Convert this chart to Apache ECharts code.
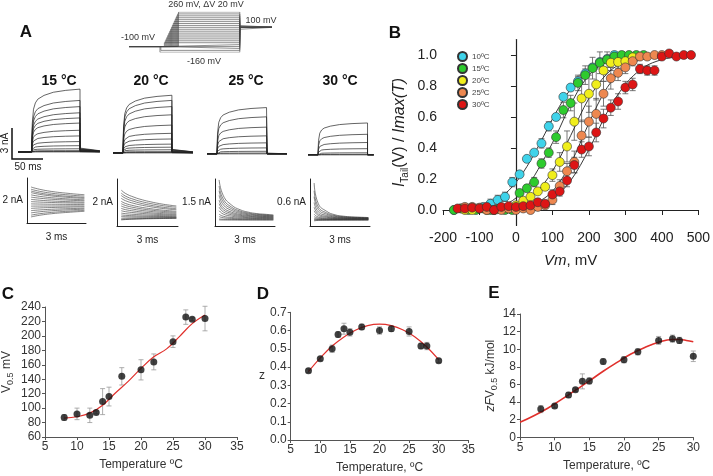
<!DOCTYPE html>
<html><head><meta charset="utf-8">
<script src="https://cdn.jsdelivr.net/npm/echarts@6/dist/echarts.min.js"></script>
<style>html,body{margin:0;padding:0;background:#fff}#c{width:713px;height:476px}</style>
</head><body><div id="c"></div><script>
// ---------- Panel A: protocol ----------
var protoLevels = [260,240,220,200,180,160,140,120,100,80,60,40,20,0,-20,-40,-60,-80,-100,-120,-140,-160];
var protoHold = -100, protoTail = 100;
var protoTimes = [0, 50, 179, 231];           // ms: start, step on, step off, end

// ---------- Panel A: current traces (nA) ----------
var tempLabels = ['15 °C', '20 °C', '25 °C', '30 °C'];
var amps15 = [6.1, 5.0, 4.4, 3.8, 3.3, 2.8, 2.1, 1.55, 1.0, 0.6, 0.3, 0.12, 0.03, 0.0];
var amps20 = [5.6, 5.1, 4.5, 3.7, 2.7, 1.9, 1.35, 0.85, 0.55, 0.3, 0.12, 0.03, 0.0];
var amps25 = [4.5, 3.6, 2.6, 1.75, 1.07, 0.58, 0.25, 0.08, 0.0];
var amps30 = [3.1, 2.0, 1.2, 0.6, 0.2, 0.05, 0.0];
var stepOn = [22, 16, 16, 16], stepOff = [100, 95, 97, 96], traceEnd = [132, 129, 129, 106];
var tailFrac = [0.06, 0.06, 0, 0];
var actT = [0, 1, 3, 6, 10, 20, 35, 55, 80];
var actV = [0, 0.45, 0.68, 0.78, 0.84, 0.9, 0.95, 0.98, 1.0];

// ---------- Panel A: tail currents ----------
var tailLabels = ['2 nA', '2 nA', '1.5 nA', '0.6 nA'];
var tailT = [0.25, 0.5, 1, 1.5, 2, 2.5, 3, 3.5];
var tailShape = [
  [1, 0.85, 0.62, 0.45, 0.32, 0.22, 0.12, 0.05],
  [1, 0.8, 0.58, 0.42, 0.3, 0.2, 0.12, 0.06],
  [1, 0.55, 0.28, 0.15, 0.08, 0.04, 0.02, 0.0],
  [1, 0.4, 0.18, 0.08, 0.04, 0.02, 0.01, 0.0]
];
var tailStart = [
  [1.6, 1.5, 1.42, 1.35, 1.25, 1.15, 1.05, 0.95, 0.85, 0.75, 0.65, 0.55, 0.45, 0.35, 0.27],
  [1.53, 1.4, 1.3, 1.18, 1.05, 0.95, 0.85, 0.75, 0.65, 0.55, 0.47, 0.4, 0.33, 0.28, 0.26],
  [1.96, 1.7, 1.5, 1.3, 1.1, 0.95, 0.8, 0.65, 0.5, 0.4, 0.3, 0.26],
  [1.83, 1.5, 1.25, 1.0, 0.8, 0.65, 0.5, 0.4, 0.33, 0.28, 0.25, 0.22]
];
var tailEnd = [
  [1.24, 1.18, 1.12, 1.08, 1.02, 0.98, 0.92, 0.88, 0.82, 0.76, 0.72, 0.66, 0.62, 0.57, 0.53],
  [0.81, 0.76, 0.7, 0.66, 0.6, 0.56, 0.52, 0.48, 0.45, 0.42, 0.39, 0.37, 0.35, 0.34, 0.33],
  [0.47, 0.45, 0.43, 0.41, 0.39, 0.37, 0.35, 0.33, 0.31, 0.29, 0.27, 0.25],
  [0.36, 0.35, 0.34, 0.33, 0.32, 0.31, 0.3, 0.29, 0.28, 0.27, 0.26, 0.25]
];

// ---------- Panel B: [Vm, I/Imax, err] ----------
var bNames = ['10ºC', '15ºC', '20ºC', '25ºC', '30ºC'];
var bColors = ['#3fd3ea', '#2ecb2e', '#f0ee1c', '#ee8850', '#dd1515'];
var b10 = [[-170,0.0,0],[-150,0.01,0],[-130,0.01,0],[-110,0.01,0.01],[-90,0.02,0.02],[-70,0.04,0.03],[-50,0.065,0.03],[-30,0.085,0.03],[-10,0.18,0.03],[10,0.23,0.02],[30,0.33,0.02],[50,0.37,0.02],[70,0.43,0.03],[90,0.54,0.03],[110,0.60,0.02],[130,0.73,0.02],[150,0.79,0.02],[170,0.83,0.03],[190,0.88,0.03],[210,0.92,0.02],[230,0.955,0.02],[250,0.975,0.02],[270,1.0,0.02]];
var b15 = [[-170,0.0,0],[-150,0.01,0],[-130,0.0,0],[-110,0.0,0.01],[-90,0.01,0.01],[-70,0.0,0.01],[-50,0.005,0.01],[-30,0.0,0.01],[-10,0.0,0.01],[10,0.11,0.02],[30,0.14,0.02],[50,0.18,0.03],[70,0.30,0.03],[90,0.37,0.03],[110,0.47,0.04],[130,0.645,0.05],[150,0.69,0.05],[170,0.82,0.05],[190,0.87,0.06],[210,0.915,0.07],[230,0.95,0.07],[250,0.97,0.05],[270,0.99,0.03],[290,1.0,0.02],[310,1.0,0.01],[330,1.0,0.01],[350,1.0,0.01]];
var b20 = [[-140,0.0,0],[-120,0.0,0],[-100,0.01,0.01],[-80,0.0,0.01],[-60,0.0,0.01],[-40,0.01,0.01],[-20,0.01,0.01],[0,0.03,0.01],[20,0.06,0.01],[40,0.085,0.02],[60,0.12,0.02],[80,0.15,0.02],[100,0.225,0.04],[120,0.31,0.06],[140,0.41,0.1],[160,0.57,0.12],[180,0.72,0.15],[200,0.75,0.12],[220,0.81,0.1],[240,0.90,0.07],[260,0.95,0.05],[280,0.955,0.04],[300,0.96,0.03],[320,0.985,0.02]];
var b25 = [[-140,0.02,0],[-120,0.02,0],[-100,0.015,0.01],[-80,0.0,0.01],[-60,0.0,0.01],[-40,0.0,0.02],[-20,0.01,0.02],[0,0.0,0.02],[20,0.01,0.01],[40,0.0,0.01],[60,0.02,0.02],[80,0.03,0.02],[100,0.065,0.03],[120,0.155,0.04],[140,0.25,0.05],[160,0.31,0.07],[180,0.48,0.1],[200,0.57,0.1],[220,0.62,0.1],[240,0.75,0.08],[260,0.85,0.07],[280,0.885,0.05],[300,0.92,0.04],[320,0.96,0.03],[340,0.99,0.02],[360,0.99,0.02],[380,1.0,0.01],[400,1.0,0.01]];
var b30 = [[-160,0.01,0],[-140,0.01,0],[-120,0.015,0.01],[-100,0.01,0.01],[-80,0.02,0.01],[-60,0.0,0.01],[-40,0.02,0.01],[-20,0.025,0.01],[0,0.02,0.01],[20,0.025,0.01],[40,0.03,0.01],[60,0.05,0.02],[80,0.04,0.02],[100,0.10,0.03],[120,0.12,0.03],[140,0.19,0.04],[160,0.29,0.05],[180,0.39,0.05],[200,0.41,0.06],[220,0.50,0.06],[240,0.59,0.06],[260,0.66,0.05],[280,0.70,0.05],[300,0.79,0.04],[320,0.81,0.04],[340,0.91,0.03],[360,0.90,0.03],[380,0.90,0.03],[400,0.99,0.02],[420,1.01,0.02],[440,0.99,0.01],[460,1.0,0.01],[480,1.0,0.01]];
// fitted curves
var fit10 = [[-170,0.005],[-130,0.012],[-90,0.03],[-50,0.07],[-10,0.15],[30,0.28],[70,0.45],[110,0.63],[150,0.78],[190,0.88],[230,0.94],[270,0.975],[300,0.99]];
var fit15 = [[-170,0.0],[-90,0.01],[-50,0.025],[-10,0.06],[30,0.15],[70,0.3],[110,0.48],[150,0.68],[190,0.84],[230,0.93],[270,0.97],[310,0.99],[350,1.0]];
var fit20 = [[-170,0.0],[-50,0.01],[0,0.03],[50,0.1],[100,0.25],[150,0.48],[200,0.72],[250,0.88],[300,0.96],[340,0.985]];
var fit25 = [[-170,0.0],[0,0.01],[50,0.04],[100,0.12],[150,0.3],[200,0.56],[250,0.79],[300,0.92],[350,0.975],[400,0.99]];
var fit30 = [[-170,0.0],[0,0.005],[50,0.02],[100,0.07],[150,0.19],[200,0.39],[250,0.63],[300,0.81],[350,0.92],[400,0.97],[450,0.99],[480,0.995]];
var bYTicks = [0, 0.2, 0.4, 0.6, 0.8, 1.0];

// ---------- Panels C, D, E ----------
var temps = [8, 10, 12, 13, 14, 15, 17, 20, 22, 25, 27, 28, 30];
var cV05 = [87, 92, 90, 94, 109, 116, 144, 153, 164, 192, 226, 223, 224];
var cErr = [4, 8, 10, 2, 18, 13, 12, 14, 11, 8, 10, 2, 17];
var cFitT = [8, 10, 12, 14, 16, 18, 20, 22, 24, 26, 28, 30];
var cFitV = [86, 88, 93, 104, 121, 137, 155, 171, 182, 199, 217, 229];
var dZ = [0.38, 0.445, 0.50, 0.578, 0.61, 0.59, 0.62, 0.60, 0.61, 0.595, 0.515, 0.515, 0.435];
var dErr = [0.01, 0.01, 0.02, 0.015, 0.03, 0.02, 0.015, 0.02, 0.015, 0.025, 0.015, 0.02, 0.01];
var dFitT = [8, 10, 12, 14, 16, 18, 20, 22, 24, 26, 28, 30];
var dFitV = [0.375, 0.45, 0.515, 0.565, 0.603, 0.627, 0.635, 0.627, 0.603, 0.565, 0.51, 0.44];
var eVal = [3.2, 3.55, 4.8, 5.4, 6.35, 6.4, 8.6, 8.8, 9.7, 11.0, 11.2, 11.0, 9.2];
var eErr = [0.4, 0.2, 0.3, 0.2, 0.85, 0.35, 0.3, 0.35, 0.35, 0.45, 0.4, 0.35, 0.6];
var eFitT = [5, 7, 9, 11, 13, 15, 17, 19, 21, 23, 25, 27, 28, 29, 30];
var eFitV = [1.7, 2.45, 3.3, 4.3, 5.35, 6.4, 7.5, 8.5, 9.45, 10.2, 10.8, 11.1, 11.1, 11.0, 10.85];

// =====================================================
var FONT = 'Liberation Sans, Arial, sans-serif';
var chart = echarts.init(document.getElementById('c'), null, {renderer: 'canvas'});
var grids = [], xAxes = [], yAxes = [], series = [];

function hiddenAxes(xmin, xmax, ymin, ymax) {
  xAxes.push({gridIndex: grids.length - 1, type: 'value', min: xmin, max: xmax, show: false});
  yAxes.push({gridIndex: grids.length - 1, type: 'value', min: ymin, max: ymax, show: false});
}
function lineS(idx, data, color, width, smooth, z) {
  return {type: 'line', xAxisIndex: idx, yAxisIndex: idx, data: data, symbol: 'none', silent: true,
    smooth: smooth || false, lineStyle: {color: color, width: width}, z: z || 2, animation: false};
}
function errSeries(idx, data, color, capW) {
  return {type: 'custom', xAxisIndex: idx, yAxisIndex: idx, silent: true, z: 1, animation: false,
    data: data.filter(function (d) { return d[2] > 0; }).map(function (d) { return [d[0], d[1] - d[2], d[1] + d[2]]; }),
    encode: {x: 0, y: [1, 2]},
    renderItem: function (params, api) {
      var lo = api.coord([api.value(0), api.value(1)]);
      var hi = api.coord([api.value(0), api.value(2)]);
      var st = {stroke: color, lineWidth: 0.8};
      return {type: 'group', children: [
        {type: 'line', shape: {x1: lo[0], y1: lo[1], x2: hi[0], y2: hi[1]}, style: st},
        {type: 'line', shape: {x1: lo[0] - capW, y1: lo[1], x2: lo[0] + capW, y2: lo[1]}, style: st},
        {type: 'line', shape: {x1: hi[0] - capW, y1: hi[1], x2: hi[0] + capW, y2: hi[1]}, style: st}
      ]};
    }};
}

// ---- protocol grid (0)
grids.push({left: 129, top: 12, width: 143, height: 40.3});
hiddenAxes(protoTimes[0], protoTimes[3], -160, 260);
protoLevels.forEach(function (L) {
  var d = 30 * (L + 160) / 420;
  var t1 = protoTimes[1] + d;
  series.push(lineS(0, [[protoTimes[0], protoHold], [t1, protoHold], [t1, L], [protoTimes[2], L],
    [protoTimes[2], protoTail], [protoTimes[3], protoTail]], '#444', 0.6));
});

// ---- step current grids (1-4)
var ampSets = [amps15, amps20, amps25, amps30];
var traceGrid = [[18, 85], [113, 86], [207, 87], [308, 88]];
ampSets.forEach(function (amps, k) {
  grids.push({left: traceGrid[k][0], top: traceGrid[k][1], width: traceEnd[k] * 0.62, height: 72});
  hiddenAxes(0, traceEnd[k], -0.5, 6.5);
  var gi = grids.length - 1;
  amps.forEach(function (a) {
    var pts = [[0, 0], [stepOn[k], 0]];
    for (var j = 0; j < actT.length; j++) {
      var t = stepOn[k] + actT[j];
      if (t < stepOff[k]) pts.push([t, a * actV[j]]);
    }
    pts.push([stepOff[k], a]);
    pts.push([stepOff[k], a * tailFrac[k]]);
    pts.push([traceEnd[k], a * tailFrac[k] * 0.3]);
    series.push(lineS(gi, pts, '#222', 0.7));
  });
});

// ---- tail current grids (5-8)
var tailGrid = [[27, 178, 59, 45], [117, 179, 61, 47], [215, 179, 60, 47], [310, 179, 60, 47]];
tailStart.forEach(function (starts, k) {
  grids.push({left: tailGrid[k][0], top: tailGrid[k][1], width: tailGrid[k][2], height: tailGrid[k][3]});
  var gi = grids.length - 1;
  var axStyle = {show: true, lineStyle: {color: '#222', width: 1}};
  xAxes.push({gridIndex: gi, type: 'value', min: 0, max: 3.6, axisLine: axStyle, axisTick: {show: false},
    axisLabel: {show: false}, splitLine: {show: false}, name: '3 ms', nameLocation: 'middle', nameGap: 9,
    nameTextStyle: {fontFamily: FONT, fontSize: 10, color: '#222'}});
  yAxes.push({gridIndex: gi, type: 'value', min: 0, max: 2, axisLine: axStyle, axisTick: {show: false},
    axisLabel: {show: false}, splitLine: {show: false}, name: tailLabels[k], nameLocation: 'middle',
    nameRotate: 0, nameGap: 4, nameTextStyle: {fontFamily: FONT, fontSize: 10, color: '#222', align: 'right'}});
  starts.forEach(function (s, i) {
    var e = tailEnd[k][i];
    var pts = tailT.map(function (t, j) { return [t, e + (s - e) * tailShape[k][j]]; });
    series.push(lineS(gi, pts, '#333', 0.6, true));
  });
});

// ---- Panel B grid (9)
grids.push({left: 443, top: 39.5, width: 258, height: 186});
var bi = grids.length - 1;
xAxes.push({gridIndex: bi, type: 'value', min: -200, max: 500, interval: 100,
  axisLine: {lineStyle: {color: '#222', width: 1.2}}, axisTick: {inside: false, length: 5, lineStyle: {color: '#222'}},
  axisLabel: {fontFamily: FONT, fontSize: 14, color: '#222', margin: 6}, splitLine: {show: false},
  name: '{i|Vm}{n|, mV}', nameLocation: 'middle', nameGap: 28,
  nameTextStyle: {rich: {i: {fontFamily: FONT, fontSize: 15, fontStyle: 'italic', color: '#222'},
    n: {fontFamily: FONT, fontSize: 15, color: '#222'}}}});
yAxes.push({gridIndex: bi, type: 'value', min: -0.1, max: 1.1,
  axisLine: {show: true, lineStyle: {color: '#222', width: 1.2}},
  axisTick: {show: true, length: 5, customValues: bYTicks, lineStyle: {color: '#222'}},
  axisLabel: {fontFamily: FONT, fontSize: 14, color: '#222', margin: 6, customValues: bYTicks,
    formatter: function (v) { return v.toFixed(1); }},
  splitLine: {show: false},
  name: '{i|I}{s|Tail}{n|(V) / }{i|Imax(T)}', nameLocation: 'middle', nameGap: 33, nameRotate: 90,
  nameTextStyle: {rich: {
    i: {fontFamily: FONT, fontSize: 16, fontStyle: 'italic', color: '#222', lineHeight: 20},
    n: {fontFamily: FONT, fontSize: 16, color: '#222', lineHeight: 20},
    s: {fontFamily: FONT, fontSize: 10, color: '#222', lineHeight: 10, verticalAlign: 'bottom'}}}});
var bSets = [b10, b15, b20, b25, b30];
var bFits = [fit10, fit15, fit20, fit25, fit30];
bSets.forEach(function (d, k) { series.push(errSeries(bi, d, '#555', 3)); });
bFits.forEach(function (f) { series.push(lineS(bi, f, '#222', 0.9, 0.35, 3)); });
bSets.forEach(function (d, k) {
  series.push({type: 'scatter', name: bNames[k], xAxisIndex: bi, yAxisIndex: bi, z: 4, animation: false,
    data: d.map(function (p) { return [p[0], p[1]]; }), symbolSize: 9,
    itemStyle: {color: bColors[k], borderColor: '#333', borderWidth: 0.6, opacity: 1}});
});

// ---- C, D, E
function smallPanel(g, xmin, xmax, ymin, ymax, yint, yfmt, xname, yname, yrich, ygap, yrot) {
  grids.push(g);
  var gi = grids.length - 1;
  var txt = {fontFamily: FONT, fontSize: 12, color: '#333'};
  xAxes.push({gridIndex: gi, type: 'value', min: xmin, max: xmax, interval: 5,
    axisLine: {lineStyle: {color: '#555'}}, axisTick: {length: 3, lineStyle: {color: '#555'}},
    axisLabel: Object.assign({margin: 4}, txt), splitLine: {show: false},
    name: xname, nameLocation: 'middle', nameGap: 22, nameTextStyle: txt});
  yAxes.push({gridIndex: gi, type: 'value', min: ymin, max: ymax, interval: yint,
    axisLine: {show: true, lineStyle: {color: '#555'}}, axisTick: {show: true, length: 3, lineStyle: {color: '#555'}},
    axisLabel: Object.assign({margin: 4, formatter: yfmt}, txt), splitLine: {show: false},
    name: yname, nameLocation: 'middle', nameGap: ygap, nameRotate: yrot,
    nameTextStyle: {rich: yrich}});
  return gi;
}
function pts(xs, ys) { return xs.map(function (x, i) { return [x, ys[i]]; }); }
function pte(xs, ys, es) { return xs.map(function (x, i) { return [x, ys[i], es[i]]; }); }
var rTxt = {n: {fontFamily: FONT, fontSize: 12, color: '#333', lineHeight: 16},
  i: {fontFamily: FONT, fontSize: 12, fontStyle: 'italic', color: '#333', lineHeight: 16},
  s: {fontFamily: FONT, fontSize: 9, color: '#333', lineHeight: 8, verticalAlign: 'bottom'}};

var ci = smallPanel({left: 45, top: 307, width: 192, height: 130}, 5, 35, 60, 240, 20, null,
  'Temperature ºC', '{n|V}{s|0.5}{n| mV}', rTxt, 30, 90);
series.push(errSeries(ci, pte(temps, cV05, cErr), '#999', 2.5));
series.push(lineS(ci, pts(cFitT, cFitV), '#e0302c', 1.2, 0.4, 3));
series.push({type: 'scatter', xAxisIndex: ci, yAxisIndex: ci, data: pts(temps, cV05), symbolSize: 7, z: 4,
  itemStyle: {color: '#111'}, animation: false});

var di = smallPanel({left: 290.7, top: 312.3, width: 177.6, height: 127.7}, 5, 35, 0, 0.7, 0.1,
  function (v) { return v.toFixed(1); }, 'Temperature, ºC', '{n|z}', rTxt, 22, 0);
series.push(errSeries(di, pte(temps, dZ, dErr), '#999', 2.5));
series.push(lineS(di, pts(dFitT, dFitV), '#e0302c', 1.2, 0.4, 3));
series.push({type: 'scatter', xAxisIndex: di, yAxisIndex: di, data: pts(temps, dZ), symbolSize: 7, z: 4,
  itemStyle: {color: '#111'}, animation: false});

var ei = smallPanel({left: 520, top: 314, width: 173.3, height: 123.3}, 5, 30, 0, 14, 2, null,
  'Temperature, ºC', '{i|zF}{n|V}{s|0.5}{n| kJ/mol}', rTxt, 16, 90);
series.push(errSeries(ei, pte(temps, eVal, eErr), '#999', 2.5));
series.push(lineS(ei, pts(eFitT, eFitV), '#e0302c', 1.6, 0.4, 3));
series.push({type: 'scatter', xAxisIndex: ei, yAxisIndex: ei, data: pts(temps, eVal), symbolSize: 7, z: 4,
  itemStyle: {color: '#111'}, animation: false});

// ---- texts
var gtxt = [];
function T(x, y, s, size, opts) {
  var o = {type: 'text', x: x, y: y, style: Object.assign({text: s, fontFamily: FONT, fontSize: size, fill: '#111',
    align: 'center', verticalAlign: 'middle'}, opts || {})};
  gtxt.push(o);
}
T(26, 32, 'A', 17, {fontWeight: 'bold'});
T(395, 33, 'B', 17, {fontWeight: 'bold'});
T(8, 294, 'C', 17, {fontWeight: 'bold'});
T(263, 294, 'D', 17, {fontWeight: 'bold'});
T(494, 293, 'E', 17, {fontWeight: 'bold'});
T(206, 5, '260 mV, ΔV 20 mV', 9, {fill: '#333'});
T(261, 21, '100 mV', 9, {fill: '#333'});
T(138, 38, '-100 mV', 9, {fill: '#333'});
T(204, 62, '-160 mV', 9, {fill: '#333'});
var tx = [59, 151, 246, 340];
tempLabels.forEach(function (s, k) { T(tx[k], 81, s, 14, {fontWeight: 'bold'}); });
T(28, 167, '50 ms', 10, {fill: '#222'});
gtxt.push({type: 'text', x: 5, y: 143, rotation: Math.PI / 2,
  style: {text: '3 nA', fontFamily: FONT, fontSize: 10, fill: '#222', align: 'center', verticalAlign: 'middle'}});
gtxt.push({type: 'polyline', shape: {points: [[12, 128], [12, 159], [43, 159]]},
  style: {stroke: '#111', lineWidth: 1.5, fill: null}});

chart.setOption({
  animation: false,
  backgroundColor: '#fff',
  grid: grids, xAxis: xAxes, yAxis: yAxes, series: series,
  legend: {data: bNames, orient: 'vertical', left: 452, top: 46, itemWidth: 9, itemHeight: 9, itemGap: 1,
    icon: 'circle', textStyle: {fontFamily: FONT, fontSize: 8, color: '#444'}, selectedMode: false},
  graphic: gtxt
});
</script></body></html>
